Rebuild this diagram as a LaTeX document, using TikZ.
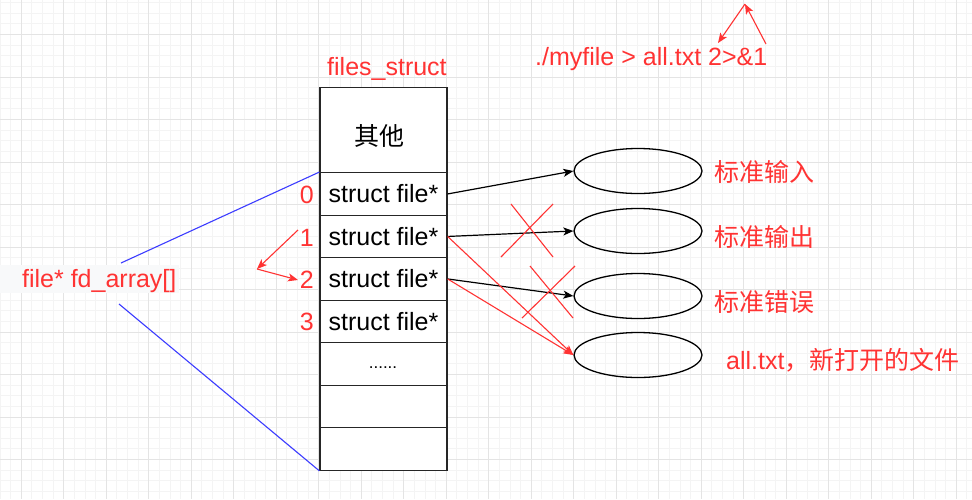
\documentclass[tikz,border=0pt]{standalone}
\usepackage{fontspec}
\setmainfont{Liberation Sans}
\newfontfamily\cjk{Noto Sans CJK SC}
\usetikzlibrary{shapes.geometric,arrows.meta}
\definecolor{myred}{RGB}{255,51,51}
\definecolor{myblue}{RGB}{60,60,255}
\definecolor{gridmajor}{RGB}{228,228,228}
\definecolor{gridminor}{RGB}{244,244,244}
\definecolor{faint}{RGB}{248,249,250}
\newcommand{\fs}{\fontsize{25}{30}\selectfont}
\begin{document}
\begin{tikzpicture}[x=1pt,y=-1pt,
  cell/.style={draw=black!85, line width=1.3pt, fill=white, minimum width=127pt,
    minimum height=42.5pt, inner sep=0pt, font=\fs},
  ell/.style={ellipse, draw=black, line width=1.3pt, minimum width=128pt,
    minimum height=45pt, inner sep=0pt},
  lbl/.style={anchor=base west, inner sep=0pt, text=myred, font=\fs},
  num/.style={anchor=base east, inner sep=0pt, text=myred, font=\fs},
  blk/.style={draw=black, line width=1.2pt, -{Stealth[length=10pt,width=8pt,inset=2.5pt]}},
  redarr/.style={draw=myred, line width=1.1pt, -{Stealth[length=10pt,width=8pt,inset=2.5pt]}},
  redln/.style={draw=myred, line width=1.1pt},
  blueln/.style={draw=myblue, line width=1.1pt}]
\useasboundingbox[fill=white] (0,0) rectangle (972,499);
% grid
\foreach \i in {0,...,91} \draw[gridminor, line width=0.9pt] ({0.05+10.625*\i},0) -- ++(0,499);
\foreach \i in {0,...,46} \draw[gridminor, line width=0.9pt] (0,{2.6+10.625*\i}) -- ++(972,0);
\foreach \i in {0,...,22} \draw[gridmajor, line width=1pt] ({21.3+42.5*\i},0) -- ++(0,499);
\foreach \i in {0,...,10} \draw[gridmajor, line width=1pt] (0,{34.5+42.5*\i}) -- ++(972,0);

% table
\node[cell, minimum height=85pt] (other) at (383.5,130.2) {};
\node[anchor=base, inner sep=0pt, font=\fs\cjk] (otherlbl) at (379,145) {其他};
\node[cell] (r0) at (383.5,193.95) {struct file*};
\node[cell] (r1) at (383.5,236.45) {struct file*};
\node[cell] (r2) at (383.5,278.95) {struct file*};
\node[cell] (r3) at (383.5,321.45) {struct file*};
\node[cell] (r4) at (383.5,363.95) {};
\node[inner sep=0pt, font=\fontsize{17}{20}\selectfont] (dots) at (383,367.5) {......};
\node[cell] (r5) at (383.5,406.45) {};
\node[cell] (r6) at (383.5,448.95) {};

\node[lbl] (title) at (327,75) {files\_struct};
\node[lbl] (cmd) at (535,65) {./myfile > all.txt 2>\&1};

% indices
\node[num] (d0) at (314,203.3) {0};
\node[num] (d1) at (314,246) {1};
\node[num] (d2) at (314,288.3) {2};
\node[num] (d3) at (314,330.7) {3};

% fd_array label
\fill[faint] (0,265) rectangle (179,293);
\node[lbl] (fd) at (22,287) {file* fd\_array[]};

% ellipses
\node[ell] (e1) at (638,171) {};
\node[ell] (e2) at (638,231) {};
\node[ell] (e3) at (638,296) {};
\node[ell] (e4) at (638,355) {};

\node[lbl] (l1) at (714,181) {\cjk 标准输入};
\node[lbl] (l2) at (714,246.5) {\cjk 标准输出};
\node[lbl] (l3) at (714,311) {\cjk 标准错误};
\node[lbl] (l4) at (726,369) {all.txt{\cjk ，新打开的文件}};

% blue lines
\coordinate (b1) at (121,263);
\coordinate (b2) at (119,304);
\draw[blueln] (b1) -- (r0.north west);
\draw[blueln] (b2) -- (r6.south west);

% black arrows
\draw[blk] (r0.east) -- (e1.west);
\draw[blk] (r1.east) -- (e2.west);
\draw[blk] (r2.east) -- (e3.west);
% red arrows to all.txt
\draw[redarr] (r1.east) -- (e4.west);
\draw[redarr] (r2.east) -- (e4.west);

% red crosses
\coordinate (x1a) at (511,204); \coordinate (x1b) at (553,257);
\coordinate (x1c) at (553,204); \coordinate (x1d) at (501,257);
\draw[redln] (x1a) -- (x1b);
\draw[redln] (x1c) -- (x1d);
\coordinate (x2a) at (530,266); \coordinate (x2b) at (573,318);
\coordinate (x2c) at (575,266); \coordinate (x2d) at (522,318);
\draw[redln] (x2a) -- (x2b);
\draw[redln] (x2c) -- (x2d);

% left swap arrows
\coordinate (la) at (298,230);
\coordinate (lb) at (257,269);
\coordinate (lc) at (298,280);
\draw[redarr] (la) -- (lb);
\draw[redarr] (lb) -- (lc);

% top arrows
\coordinate (ta) at (766,44);
\coordinate (tb) at (745,4);
\coordinate (tc) at (718,43);
\draw[redarr] (ta) -- (tb);
\draw[redarr] (tb) -- (tc);
\end{tikzpicture}
\end{document}
